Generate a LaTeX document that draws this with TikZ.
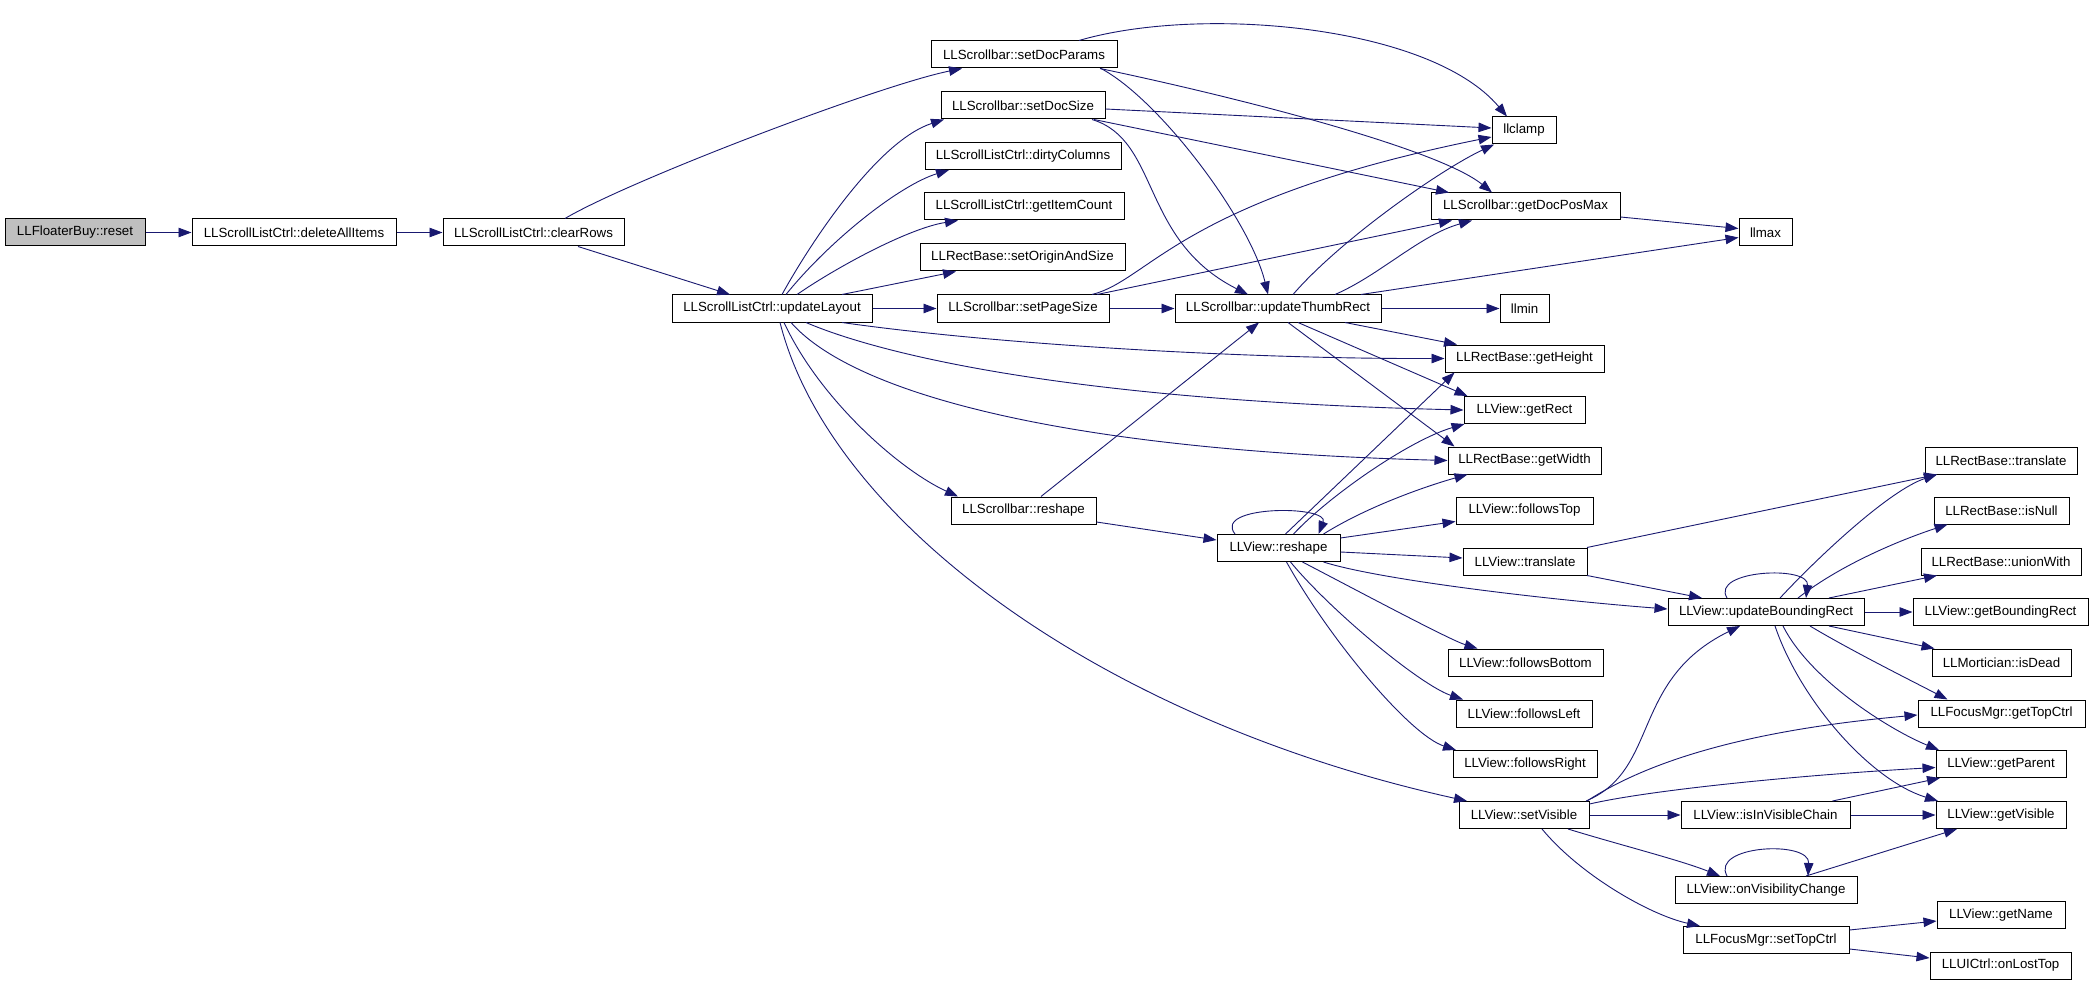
\documentclass[tikz,border=0pt]{standalone}
\usepackage{fontspec}
\setmainfont{Liberation Sans}
\usetikzlibrary{arrows.meta}
\definecolor{edgeblue}{HTML}{191970}
\definecolor{rootgray}{HTML}{BFBFBF}
\begin{document}
\begin{tikzpicture}[x=1pt,y=-1pt,
  fn/.style={draw=black,line width=1pt,rectangle,minimum height=27pt,inner sep=0pt,
    font=\fontsize{13.3}{16}\selectfont,text=black,fill=white},
  ed/.style={draw=edgeblue,line width=0.9pt,-{Triangle[length=13pt,width=9.5pt]}}]
\useasboundingbox[fill=white] (0,0) rectangle (2093,984);

% nodes
\node[fn,fill=rootgray,minimum width=140pt] (reset) at (75,232.5) {LLFloaterBuy::reset};
\node[fn,minimum width=204pt] (dai) at (294,232.5) {LLScrollListCtrl::deleteAllItems};
\node[fn,minimum width=181pt] (cr) at (533.5,232.5) {LLScrollListCtrl::clearRows};
\node[fn,minimum width=200pt] (ul) at (772,308.5) {LLScrollListCtrl::updateLayout};
\node[fn,minimum width=186pt] (sdp) at (1024,54.5) {LLScrollbar::setDocParams};
\node[fn,minimum width=164pt] (sds) at (1023,105.5) {LLScrollbar::setDocSize};
\node[fn,minimum width=196pt] (dc) at (1023,156) {LLScrollListCtrl::dirtyColumns};
\node[fn,minimum width=200pt] (gic) at (1024,206.5) {LLScrollListCtrl::getItemCount};
\node[fn,minimum width=205pt] (soas) at (1022.5,257.5) {LLRectBase::setOriginAndSize};
\node[fn,minimum width=172pt] (sps) at (1023,308.5) {LLScrollbar::setPageSize};
\node[fn,minimum width=206pt] (utr) at (1278,308.5) {LLScrollbar::updateThumbRect};
\node[fn,minimum width=64pt] (clamp) at (1524,130.5) {llclamp};
\node[fn,minimum width=189pt] (gdpm) at (1525.5,206.5) {LLScrollbar::getDocPosMax};
\node[fn,minimum width=53pt] (lmax) at (1765.5,232.5) {llmax};
\node[fn,minimum width=49pt] (lmin) at (1524.5,308.5) {llmin};
\node[fn,minimum width=159pt] (gh) at (1524.5,358.5) {LLRectBase::getHeight};
\node[fn,minimum width=121pt] (gr) at (1524.5,410) {LLView::getRect};
\node[fn,minimum width=153pt] (gw) at (1524.5,460.5) {LLRectBase::getWidth};
\node[fn,minimum width=145pt] (sbr) at (1023.5,510.5) {LLScrollbar::reshape};
\node[fn,minimum width=123pt] (vr) at (1278.5,548) {LLView::reshape};
\node[fn,minimum width=137pt] (ft) at (1524.5,510.5) {LLView::followsTop};
\node[fn,minimum width=124pt] (vt) at (1525,561.5) {LLView::translate};
\node[fn,minimum width=155pt] (fb) at (1525.5,662.5) {LLView::followsBottom};
\node[fn,minimum width=136pt] (fl) at (1524,713.5) {LLView::followsLeft};
\node[fn,minimum width=144pt] (frt) at (1525,764) {LLView::followsRight};
\node[fn,minimum width=130pt] (sv) at (1524,815) {LLView::setVisible};
\node[fn,minimum width=196pt] (ubr) at (1766,612) {LLView::updateBoundingRect};
\node[fn,minimum width=169pt] (ivc) at (1765.5,815) {LLView::isInVisibleChain};
\node[fn,minimum width=182pt] (ovc) at (1766,890) {LLView::onVisibilityChange};
\node[fn,minimum width=166pt] (stc) at (1766,940) {LLFocusMgr::setTopCtrl};
\node[fn,minimum width=152pt] (rbt) at (2001,460.5) {LLRectBase::translate};
\node[fn,minimum width=135pt] (isn) at (2001.5,510.5) {LLRectBase::isNull};
\node[fn,minimum width=160pt] (uw) at (2001,561.5) {LLRectBase::unionWith};
\node[fn,minimum width=175pt] (gbr) at (2000.5,612) {LLView::getBoundingRect};
\node[fn,minimum width=139pt] (isd) at (2001.5,662.5) {LLMortician::isDead};
\node[fn,minimum width=167pt] (gtc) at (2001.5,713.5) {LLFocusMgr::getTopCtrl};
\node[fn,minimum width=130pt] (gp) at (2001,764) {LLView::getParent};
\node[fn,minimum width=130pt] (gv) at (2001,815) {LLView::getVisible};
\node[fn,minimum width=128pt] (gn) at (2001,915) {LLView::getName};
\node[fn,minimum width=141pt] (olt) at (2000.5,965.5) {LLUICtrl::onLostTop};

% edges
\draw[ed] (reset.east) -- (dai.west);
\draw[ed] (dai.east) -- (cr.west);
\draw[ed] ([xshift=31.5pt]cr.north) .. controls (630,180) and (880,85) .. ([xshift=-62pt]sdp.south);
\draw[ed] ([xshift=44.5pt]cr.south) -- ([xshift=-42pt]ul.north);

\draw[ed] ([xshift=10pt]ul.north) .. controls (815,235) and (880,140) .. ([xshift=-79pt]sds.south);
\draw[ed] ([xshift=14pt]ul.north) .. controls (830,240) and (900,185) .. ([xshift=-74pt]dc.south);
\draw[ed] ([xshift=25pt]ul.north) .. controls (840,265) and (910,228) .. ([xshift=-66pt]gic.south);
\draw[ed] ([xshift=70pt]ul.north) -- ([xshift=-66.5pt]soas.south);
\draw[ed] (ul.east) -- (sps.west);
\draw[ed] (sps.east) -- (utr.west);
\draw[ed] ([xshift=70pt]ul.south) .. controls (1000,345) and (1250,359) .. (gh.west);
\draw[ed] ([xshift=34pt]ul.south) .. controls (870,350) and (1050,400) .. (gr.west);
\draw[ed] ([xshift=19pt]ul.south) .. controls (850,390) and (1050,450) .. (gw.west);
\draw[ed] ([xshift=12pt]ul.south) .. controls (820,400) and (900,470) .. ([xshift=-65.5pt]sbr.north);
\draw[ed] ([xshift=8pt]ul.south) .. controls (830,520) and (1100,720) .. ([xshift=-57pt]sv.north);

\draw[ed] ([xshift=55pt]sdp.north) .. controls (1200,5) and (1430,25) .. ([xshift=-17pt]clamp.north);
\draw[ed] ([xshift=76pt]sdp.south) .. controls (1250,100) and (1440,150) .. ([xshift=-33.5pt]gdpm.north);
\draw[ed] ([xshift=77pt]sdp.south) .. controls (1160,100) and (1250,220) .. ([xshift=-10pt]utr.north);

\draw[ed] ([yshift=-3.5pt]sds.east) -- ([yshift=2.5pt]clamp.west);
\draw[ed] ([xshift=71pt]sds.south) -- ([xshift=-76.5pt]gdpm.north);
\draw[ed] ([xshift=69pt]sds.south) .. controls (1160,140) and (1140,240) .. ([xshift=-30pt]utr.north);

\draw[ed] ([xshift=69pt]sps.north) .. controls (1150,280) and (1180,200) .. ([yshift=-6.5pt]clamp.west);
\draw[ed] ([xshift=74pt]sps.north) -- ([xshift=-73.5pt]gdpm.south);

\draw[ed] ([xshift=15pt]utr.north) .. controls (1340,240) and (1440,170) .. ([xshift=-30pt]clamp.south);
\draw[ed] ([xshift=57pt]utr.north) .. controls (1380,275) and (1420,235) .. ([xshift=-53.5pt]gdpm.south);
\draw[ed] ([xshift=83pt]utr.north) -- ([yshift=-5pt]lmax.west);
\draw[ed] ([yshift=-10.5pt]gdpm.east) -- ([yshift=4pt]lmax.west);
\draw[ed] (utr.east) -- (lmin.west);
\draw[ed] ([xshift=67pt]utr.south) -- ([xshift=-67.5pt]gh.north);
\draw[ed] ([xshift=20pt]utr.south) -- ([xshift=-57pt]gr.north);
\draw[ed] ([xshift=10pt]utr.south) -- ([xshift=-70pt]gw.north);

\draw[ed] ([xshift=17.5pt]sbr.north) -- ([xshift=-19pt]utr.south);
\draw[ed] ([yshift=-11.5pt]sbr.east) -- ([yshift=8pt]vr.west);

\draw[ed] ([xshift=-43.5pt]vr.north) .. controls (1212,505) and (1330,505) .. ([xshift=40pt]vr.north);
\draw[ed] ([xshift=7pt]vr.north) -- ([xshift=-70pt]gh.south);
\draw[ed] ([xshift=15pt]vr.north) .. controls (1330,495) and (1410,440) .. ([xshift=-60pt]gr.south);
\draw[ed] ([xshift=45pt]vr.north) .. controls (1370,505) and (1430,485) .. ([xshift=-57pt]gw.south);
\draw[ed] ([yshift=10pt]vr.east) -- ([yshift=-11pt]ft.west);
\draw[ed] ([yshift=-4pt]vr.east) -- ([yshift=3.5pt]vt.west);
\draw[ed] ([xshift=45pt]vr.south) .. controls (1380,580) and (1550,600) .. ([yshift=3pt]ubr.west);
\draw[ed] ([xshift=24pt]vr.south) .. controls (1360,592) and (1450,640) .. ([xshift=-48pt]fb.north);
\draw[ed] ([xshift=12pt]vr.south) .. controls (1330,610) and (1420,685) .. ([xshift=-61pt]fl.north);
\draw[ed] ([xshift=8pt]vr.south) .. controls (1330,640) and (1410,735) .. ([xshift=-69pt]frt.north);

\draw[ed] ([xshift=62pt]vt.north) -- ([xshift=-64pt]rbt.south);
\draw[ed] ([xshift=62pt]vt.south) -- ([xshift=-64pt]ubr.north);

\draw[ed] ([xshift=-39pt]ubr.north) .. controls (1710,570) and (1810,565) .. ([xshift=40pt]ubr.north);
\draw[ed] ([xshift=14pt]ubr.north) .. controls (1820,555) and (1890,490) .. ([xshift=-64pt]rbt.south);
\draw[ed] ([xshift=32pt]ubr.north) .. controls (1840,565) and (1900,540) .. ([xshift=-54pt]isn.south);
\draw[ed] ([xshift=63pt]ubr.north) -- ([xshift=-64pt]uw.south);
\draw[ed] (ubr.east) -- (gbr.west);
\draw[ed] ([xshift=63pt]ubr.south) -- ([xshift=-67pt]isd.north);
\draw[ed] ([xshift=44pt]ubr.south) .. controls (1850,650) and (1910,680) .. ([xshift=-54pt]gtc.north);
\draw[ed] ([xshift=17pt]ubr.south) .. controls (1810,680) and (1890,730) .. ([xshift=-62pt]gp.north);
\draw[ed] ([xshift=9pt]ubr.south) .. controls (1800,700) and (1870,780) .. ([xshift=-63pt]gv.north);

\draw[ed] ([xshift=62pt]sv.north) .. controls (1660,770) and (1630,680) .. ([xshift=-26pt]ubr.south);
\draw[ed] ([xshift=63pt]sv.north) .. controls (1650,760) and (1750,730) .. ([yshift=-1.5pt]gtc.west);
\draw[ed] ([yshift=11pt]sv.east) .. controls (1650,790) and (1800,775) .. ([yshift=-3.5pt]gp.west);
\draw[ed] (sv.east) -- (ivc.west);
\draw[ed] ([xshift=44pt]sv.south) .. controls (1620,845) and (1680,860) .. ([xshift=-46pt]ovc.north);
\draw[ed] ([xshift=18pt]sv.south) .. controls (1580,875) and (1650,915) .. ([xshift=-66pt]stc.north);

\draw[ed] ([xshift=67pt]ivc.north) -- ([xshift=-61pt]gp.south);
\draw[ed] (ivc.east) -- (gv.west);

\draw[ed] ([xshift=-39pt]ovc.north) .. controls (1710,845) and (1810,840) .. ([xshift=42pt]ovc.north);
\draw[ed] ([xshift=40pt]ovc.north) -- ([xshift=-44pt]gv.south);

\draw[ed] ([yshift=10pt]stc.east) -- ([yshift=-6pt]gn.west);
\draw[ed] ([yshift=-9pt]stc.east) -- ([yshift=7.5pt]olt.west);
\end{tikzpicture}
\end{document}
